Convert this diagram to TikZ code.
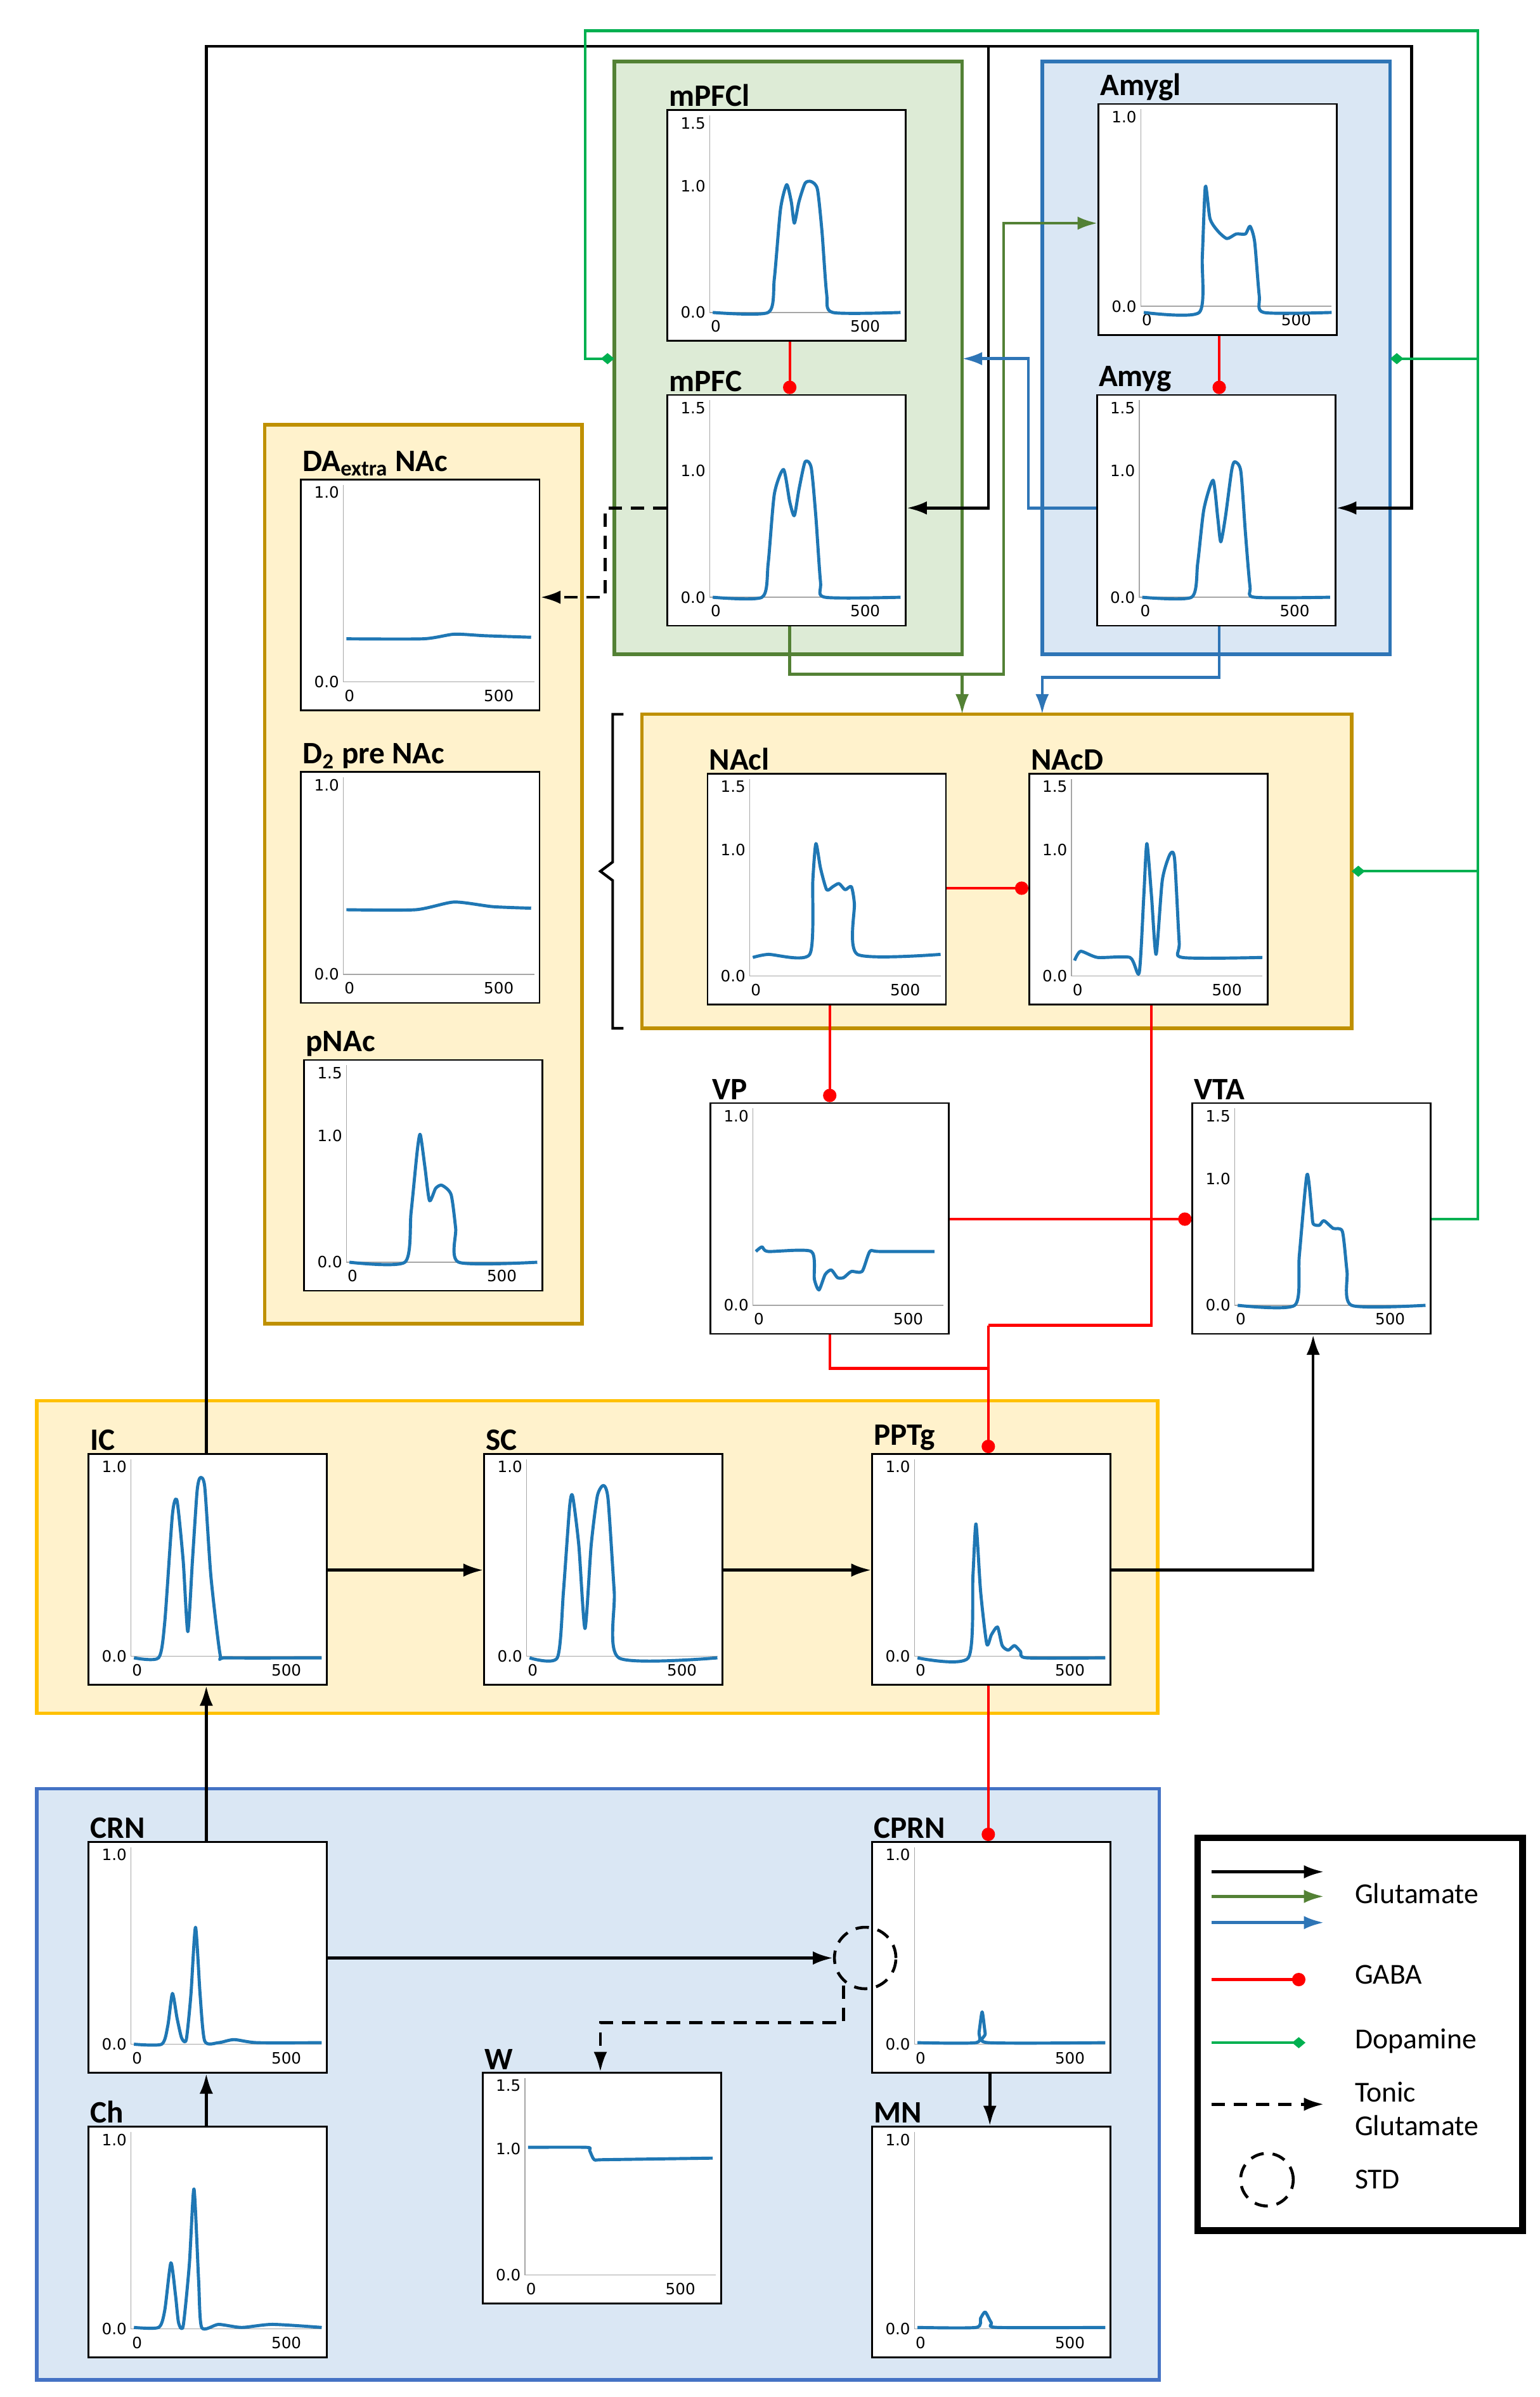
\documentclass[tikz,border=0pt]{standalone}
\usepackage{fontspec}
\setmainfont{Carlito}
\newfontfamily\tickf{DejaVu Sans}
\usetikzlibrary{arrows.meta}
\definecolor{cblue}{HTML}{1F77B4}
\definecolor{gfill}{HTML}{DDEBD6}
\definecolor{gline}{HTML}{538135}
\definecolor{bfill}{HTML}{DAE7F4}
\definecolor{bline}{HTML}{2E75B6}
\definecolor{yfill}{HTML}{FFF2CC}
\definecolor{yline}{HTML}{BF9000}
\definecolor{yline2}{HTML}{FFC000}
\definecolor{bline2}{HTML}{4472C4}
\definecolor{dgreen}{HTML}{00B050}
\begin{document}
\begin{tikzpicture}[x=0.02428cm,y=-0.02428cm,
 region/.style={line width=1.6pt},
 panel/.style={draw,fill=white,line width=0.8pt,anchor=north west,minimum width=3.76cm,minimum height=3.64cm,inner sep=0},
 tk/.style={font=\tickf\fontsize{7}{8}\selectfont,inner sep=1pt},
 ttl/.style={font=\bfseries\fontsize{14}{16}\selectfont,anchor=south west,inner sep=1pt},
 curve/.style={cblue,line width=1.4pt,line join=round},
 glu/.style={line width=1.3pt,-{Latex[length=9pt,width=6pt]}},
 gaba/.style={red,line width=1.2pt,-{Circle[length=6pt]}},
 da/.style={dgreen,line width=1.2pt,-{Diamond[length=6pt,width=5pt]}},
 ton/.style={line width=1.3pt,dash pattern=on 6pt off 4pt,-{Latex[length=9pt,width=6pt]}},
 lbl/.style={font=\fontsize{13}{15}\selectfont,anchor=west,align=left}]
\useasboundingbox (0,0) rectangle (1000,1557.2);
\newcommand\Pn[6]{%
 \node[panel] (#1) at (#2,#3) {};
 \begin{scope}[shift={(#2,#3)}]
 \draw[gray!70,line width=0.4pt] (28,4)--(28,132)--(152,132);
 \node[tk,anchor=east] at (27,132) {0.0};
 \if#4b\node[tk,anchor=east] at (27,9) {1.5};\node[tk,anchor=east] at (27,50) {1.0};\else\node[tk,anchor=east] at (27,9) {1.0};\fi
 \node[tk] at (32,141) {0};
 \node[tk] at (129,141) {500};
 \draw[curve] plot[smooth,tension=0.4] coordinates {#5};
 \end{scope}
 \node[ttl] at (#2,#3) {#6};}
% regions
\draw[region,gline,fill=gfill] (399,40) rectangle (625,425);
\draw[region,bline,fill=bfill] (677,40) rectangle (903,425);
\draw[region,yline,fill=yfill] (172,276) rectangle (378,860);
\draw[region,yline,fill=yfill] (417,464) rectangle (878,668);
\draw[region,yline2,fill=yfill] (24,910) rectangle (752,1113);
\draw[region,bline2,fill=bfill] (24,1162) rectangle (753,1546);
% panels
\Pn{mPFCl}{433}{71}{b}{(30,132)(66,132)(70,110)(74,65)(78,49)(81,60)(83,74)(86,60)(90,48)(94,47)(98,52)(101,80)(104,120)(108,132)(152,132)}{mPFCl}
\Pn{mPFC}{433}{256}{b}{(30,132)(62,132)(66,110)(70,65)(76,49)(80,70)(83,79)(86,62)(90,44)(94,48)(97,80)(100,122)(103,132)(152,132)}{mPFC}
\Pn{Amygl}{713}{67}{a}{(30,136)(66,136)(68,100)(70,54)(73,75)(78,83)(84,88)(90,85)(96,85)(99,80)(102,90)(105,125)(108,136)(152,136)}{Amygl}
\Pn{Amyg}{712}{256}{b}{(30,132)(62,132)(66,110)(70,75)(76,56)(79,80)(81,96)(84,80)(88,50)(90,44)(94,50)(97,90)(100,125)(103,132)(152,132)}{Amyg}
\Pn{DAx}{195}{311}{a}{(30,104)(80,104)(100,101)(120,102)(150,103)}{DA\textsubscript{extra} NAc}
\Pn{D2}{195}{501}{a}{(30,90)(75,90)(100,85)(125,88)(150,89)}{D\textsubscript{2} pre NAc}
\Pn{pNAc}{197}{688}{b}{(30,132)(66,132)(70,100)(74,60)(76,49)(79,70)(82,92)(86,84)(90,82)(96,88)(99,110)(101,132)(152,132)}{pNAc}
\Pn{NAcl}{459}{502}{b}{(30,120)(40,118)(67,118)(69,70)(71,46)(74,62)(78,76)(82,74)(86,72)(90,76)(94,74)(96,85)(98,118)(152,118)}{NAcl}
\Pn{NAcD}{668}{502}{b}{(30,122)(34,116)(45,120)(66,120)(72,130)(75,80)(77,46)(80,80)(83,118)(87,70)(92,53)(95,56)(98,110)(100,120)(152,120)}{NAcD}
\Pn{VP}{461}{716}{a}{(30,97)(34,94)(38,97)(66,97)(68,115)(71,122)(75,112)(79,109)(83,114)(87,114)(92,110)(99,110)(104,97)(110,97)(146,97)}{VP}
\Pn{VTA}{774}{716}{b}{(30,132)(67,132)(70,100)(75,47)(78,70)(79,79)(83,80)(86,77)(92,82)(98,84)(101,110)(104,132)(152,132)}{VTA}
\Pn{IC}{57}{944}{a}{(30,133)(46,133)(50,110)(55,40)(58,31)(62,70)(65,116)(68,70)(71,25)(73,16)(76,22)(80,80)(86,131)(90,133)(152,133)}{IC}
\Pn{SC}{314}{944}{a}{(30,133)(48,133)(52,90)(56,35)(58,28)(62,60)(66,114)(70,60)(74,28)(78,21)(81,30)(85,90)(88,133)(152,133)}{SC}
\Pn{PPTg}{566}{944}{a}{(30,133)(63,133)(66,80)(68,46)(71,90)(75,124)(78,118)(82,113)(85,125)(89,128)(93,125)(97,129)(101,133)(152,133)}{PPTg}
\Pn{CRN}{57}{1196}{a}{(30,132)(48,132)(52,120)(55,99)(58,115)(61,128)(64,129)(67,100)(70,56)(73,100)(76,130)(85,131)(95,129)(110,131)(152,131)}{CRN}
\Pn{CPRN}{566}{1196}{a}{(30,131)(68,131)(70,124)(72,111)(74,125)(76,131)(152,131)}{CPRN}
\Pn{Ch}{57}{1381}{a}{(30,131)(46,131)(50,120)(54,89)(57,110)(59,128)(62,130)(66,90)(69,41)(72,100)(74,131)(85,129)(100,131)(120,129)(152,131)}{Ch}
\Pn{W}{313}{1346}{b}{(30,49)(68,49)(70,51)(73,57)(80,57)(150,56)}{W}
\Pn{MN}{566}{1381}{a}{(30,131)(68,131)(71,125)(74,121)(78,128)(82,131)(152,131)}{MN}
% glutamate black
\coordinate (t1) at (134,30); \coordinate (t2) at (917,30); \coordinate (t3) at (642,30);
\draw[glu] (IC.north -| t1) -- (t1) -- (t2) -- (917,330) -- (Amyg.east |- 0,330);
\draw[glu] (t3) -- (642,330) -- (mPFC.east |- 0,330);
\draw[glu] (IC.east |- 0,1020) -- (SC.west |- 0,1020);
\draw[glu] (SC.east |- 0,1020) -- (PPTg.west |- 0,1020);
\draw[glu] (PPTg.east |- 0,1020) -- (853,1020) -- (VTA.south -| 853,0);
\draw[glu] (CRN.north -| 134,0) -- (IC.south -| 134,0);
\draw[glu] (Ch.north -| 134,0) -- (CRN.south -| 134,0);
\draw[glu] (CPRN.south -| 643,0) -- (MN.north -| 643,0);
\node[draw,dash pattern=on 6pt off 4pt,circle,line width=1.3pt,minimum size=0.97cm,inner sep=0] (std) at (562,1272) {};
\draw[glu] (CRN.east |- 0,1272) -- (std.west);
\draw[ton] (548,1290) -- (548,1314) -- (390,1314) -- (W.north -| 390,0);
\draw[ton] (mPFC.west |- 0,330) -- (393,330) -- (393,388) -- (DAx.east |- 0,388);
% glutamate green / blue
\draw[glu,gline] (mPFC.south -| 513,0) -- (513,438) -- (652,438) -- (652,145) -- (Amygl.west |- 0,145);
\draw[glu,gline] (625,438) -- (625,464);
\draw[glu,bline] (Amyg.west |- 0,330) -- (668,330) -- (668,233) -- (625,233);
\draw[glu,bline] (Amyg.south -| 792,0) -- (792,440) -- (677,440) -- (677,464);
% GABA
\draw[gaba] (mPFCl.south -| 513,0) -- (mPFC.north -| 513,0);
\draw[gaba] (Amygl.south -| 792,0) -- (Amyg.north -| 792,0);
\draw[gaba] (NAcl.east |- 0,577) -- (NAcD.west |- 0,577);
\draw[gaba] (NAcl.south -| 539,0) -- (VP.north -| 539,0);
\draw[gaba] (VP.east |- 0,792) -- (VTA.west |- 0,792);
\draw[red,line width=1.2pt] (NAcD.south -| 748,0) -- (748,861) -- (642,861);
\draw[gaba] (VP.south -| 539,0) -- (539,889) -- (642,889) -- (PPTg.north -| 642,0);
\draw[red,line width=1.2pt] (642,861) -- (642,889);
\draw[gaba] (PPTg.south -| 642,0) -- (CPRN.north -| 642,0);
% dopamine
\draw[da] (VTA.east |- 0,792) -- (960,792) -- (960,20) -- (380,20) -- (380,233) -- (399,233);
\draw[da] (960,233) -- (903,233);
\draw[da] (960,566) -- (878,566);
% brace
\draw[line width=1.2pt] (405,464) -- (398,464) -- (398,560) -- (390,566) -- (398,572) -- (398,668) -- (405,668);
% legend
\draw[line width=3pt] (778,1194) rectangle (989,1449);
\draw[glu] (787,1216) -- (860,1216);
\draw[glu,gline] (787,1232) -- (860,1232);
\draw[glu,bline] (787,1249) -- (860,1249);
\node[lbl] at (875,1230) {Glutamate};
\draw[gaba] (787,1286) -- (848,1286);
\node[lbl] at (875,1283) {GABA};
\draw[da] (787,1327) -- (848,1327);
\node[lbl] at (875,1326) {Dopamine};
\draw[ton] (787,1367) -- (860,1367);
\node[lbl] at (875,1370) {Tonic\\Glutamate};
\node[draw,dash pattern=on 6pt off 4pt,circle,line width=1.3pt,minimum size=0.83cm] (lstd) at (823,1416) {};
\node[lbl] at (875,1416) {STD};
\end{tikzpicture}
\end{document}
